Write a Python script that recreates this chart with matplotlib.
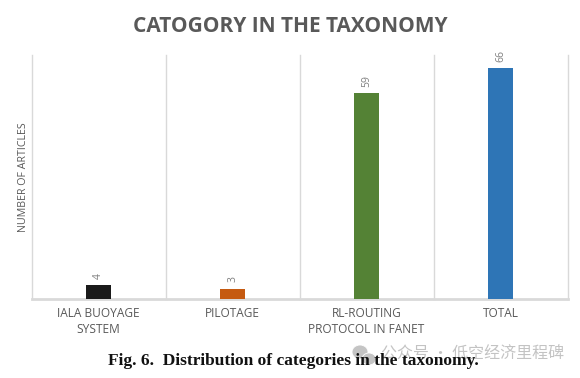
import matplotlib
matplotlib.use("Agg")
import matplotlib.pyplot as plt
from matplotlib.patches import Ellipse

# values
categories = ["IALA BUOYAGE\nSYSTEM", "PILOTAGE", "RL-ROUTING\nPROTOCOL IN FANET", "TOTAL"]
articles = [4, 3, 59, 66]
bar_colors = ["#1a1a1a", "#c55a11", "#548235", "#2e75b6"]

W, H = 580, 378
plt.rcParams['font.family'] = ['Open Sans', 'Noto Sans CJK SC', 'DejaVu Sans']

fig = plt.figure(figsize=(W / 100, H / 100), dpi=100)
ax = fig.add_axes([31.5 / W, 1 - 299 / H, (567.5 - 31.5) / W, (299 - 55) / H])

x = range(len(categories))
ax.bar(x, articles, width=0.187, color=bar_colors, zorder=3)
ax.set_xlim(-0.5, 3.5)
ax.set_ylim(0, 69.8)

# one vertical line between each category, Excel style
for pos in [-0.5, 0.5, 1.5, 2.5, 3.5]:
    ax.axvline(pos, color="#d9d9d9", lw=1, zorder=1, clip_on=False)

for s in ["top", "left", "right"]:
    ax.spines[s].set_visible(False)
ax.spines["bottom"].set_color("#d9d9d9")
ax.spines["bottom"].set_linewidth(2)

ax.set_yticks([])
ax.set_xticks(list(x))
ax.set_xticklabels([])
ax.tick_params(axis="x", length=0)

for i, c in enumerate(categories):
    ax.annotate(c, (i, 0), xytext=(0, -6), textcoords="offset points",
                ha="center", va="top", fontsize=8.6, color="#595959",
                linespacing=1.25)

for i, v in enumerate(articles):
    ax.annotate(str(v), (i, v), xytext=(0, 4.5), textcoords="offset points",
                ha="center", va="bottom", rotation=90, fontsize=7.5, color="#7f7f7f")

fig.text(290 / W, 1 - 26 / H, "CATOGORY IN THE TAXONOMY", ha="center", va="center",
         fontsize=15, fontweight="bold", color="#595959")
fig.text(24 / W, 1 - 177 / H, "NUMBER OF ARTICLES", ha="center", va="center",
         rotation=90, fontsize=7.7, color="#595959")

# watermark icon, two speech bubbles
for cx, cy, w, h in [(360, 352, 16, 14), (369, 359, 14, 12)]:
    fig.add_artist(Ellipse((cx / W, 1 - cy / H), w / W, h / H, transform=fig.transFigure,
                           facecolor="#c4c4c4", edgecolor="white", lw=0.6))

fig.text(473 / W, 1 - 354 / H, "公众号 · 低空经济里程碑", ha="center", va="center",
         fontsize=11.5, color="#b5b5b5", alpha=0.8,
         family=["Noto Sans CJK SC", "DejaVu Sans"])
fig.text(293.5 / W, 1 - 361 / H, "Fig. 6.  Distribution of categories in the taxonomy.",
         ha="center", va="center", fontsize=12.5, fontweight="bold",
         family="Liberation Serif", color="#111111", zorder=5)

fig.savefig("out.png", dpi=100)
